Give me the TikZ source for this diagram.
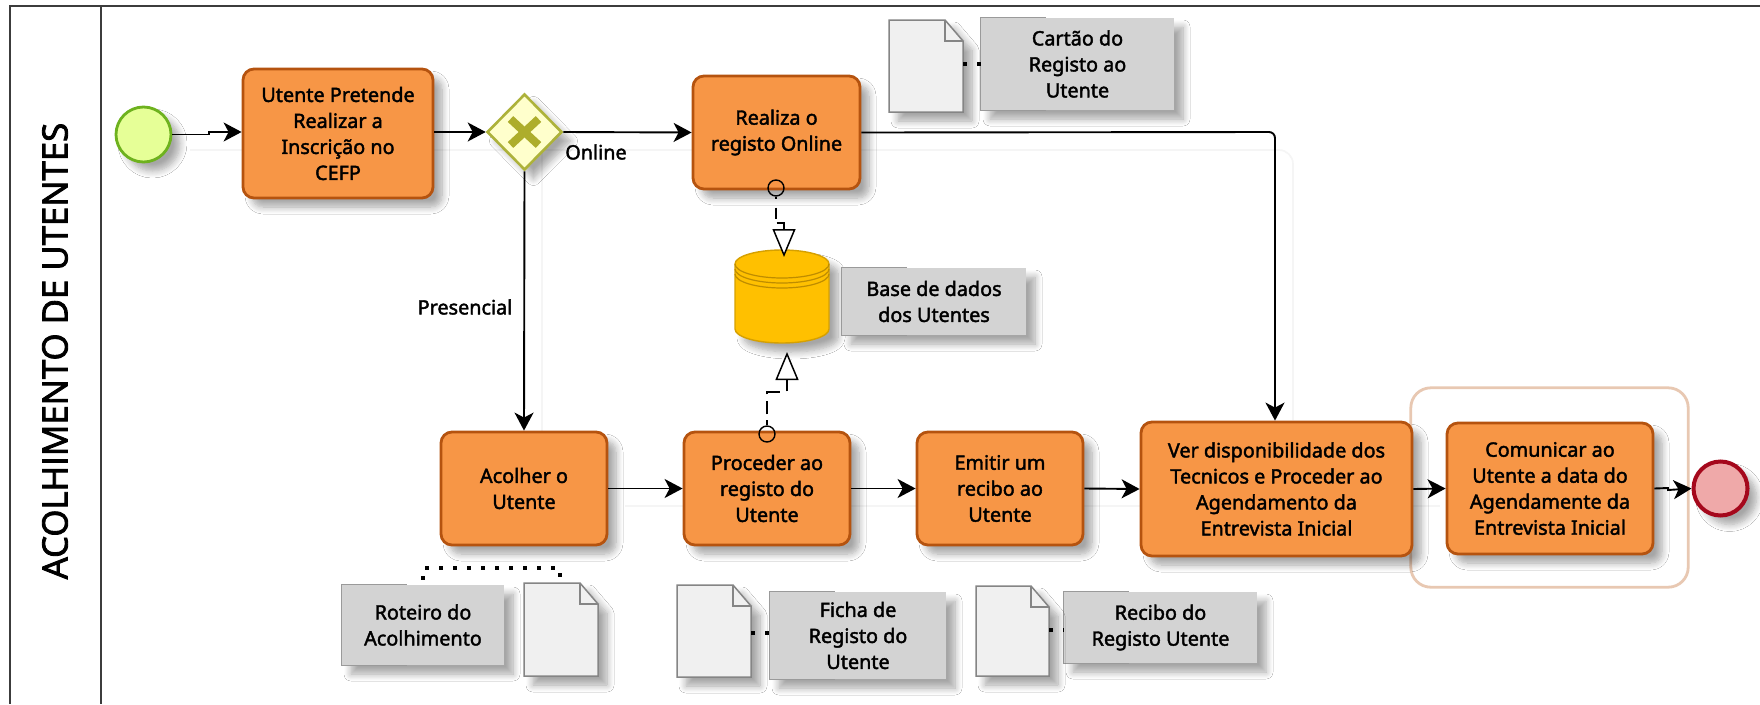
\documentclass[tikz,border=0pt]{standalone}
\usepackage{fontspec}
\setmainfont{Noto Sans}
\newfontfamily\lblfont[FakeBold=2]{Noto Sans}
\newfontfamily\ttlfont[FakeBold=2.5]{Open Sans}
\usetikzlibrary{arrows.meta,shapes.geometric,shadows,shadows.blur,calc,positioning}
\definecolor{taskfill}{HTML}{F79646}
\definecolor{taskdraw}{HTML}{B5530F}
\definecolor{annfill}{HTML}{D3D3D3}
\definecolor{annline}{HTML}{9A9A9A}
\definecolor{docfill}{HTML}{F0F0F0}
\definecolor{docdraw}{HTML}{858585}
\definecolor{framecol}{HTML}{3C3C3C}
\tikzset{
  softshadow/.style={blur shadow={shadow xshift=#1,shadow yshift=-#1,shadow blur radius=7pt,shadow blur steps=8,shadow opacity=35}},
  softshadow/.default=9pt,
  txt/.style={font=\lblfont\fontsize{19.8}{26}\selectfont,align=center,text=black},
  task/.style={txt,rectangle,rounded corners=11pt,draw=taskdraw,fill=taskfill,line width=2.8pt,inner sep=0pt,softshadow},
  ann/.style={txt,rectangle,fill=annfill,inner sep=0pt,softshadow},
  flow/.style={draw=black,line width=1.9pt,-{Stealth[length=18pt,width=19pt,inset=5pt]}},
  faint/.style={draw=black!4,line width=1.6pt},
  assoc/.style={draw=black,line width=1.5pt,-{Triangle[open,fill=white,length=28pt,width=23pt,line width=1.5pt]}},
  dotline/.style={draw=black,line width=3.4pt,dash pattern=on 3.4pt off 10.6pt},
  smallc/.style={circle,draw=black,line width=1.4pt,minimum size=16pt,inner sep=0pt},
  anchorbox/.style={inner sep=0pt,rectangle},
  lbl/.style={txt,inner sep=0pt}
}
\newcommand{\annbracket}[1]{%
  \draw[annline,line width=1.3pt] ($(#1.north west)+(65,0)$) -- (#1.north west) -- (#1.south west) -- ($(#1.south west)+(65,0)$);}
\newcommand{\docbox}[5]{% name x1 y1 x2 y2
  \node[anchorbox,minimum width=#4pt-#2pt,minimum height=#5pt-#3pt,anchor=north west] (#1) at (#2,#3) {};
  \draw[fill=docfill,draw=docdraw,line width=1.5pt,softshadow] (#2,#3) -- ({#4-18},#3) -- (#4,{#3+21}) -- (#4,#5) -- (#2,#5) -- cycle;
  \draw[draw=docdraw,line width=1.5pt] ({#4-18},#3) -- ({#4-18},{#3+21}) -- (#4,{#3+21});}
\begin{document}
\begin{tikzpicture}[x=1pt,y=-1pt]
\useasboundingbox (0,0) rectangle (1760,704);
\fill[white] (0,0) rectangle (1760,704);
% pool
\draw[framecol,line width=2pt] (1760,6) -- (10,6) -- (10,704);
\draw[framecol,line width=2pt] (101,6) -- (101,704);
\node[rotate=90,font=\ttlfont\fontsize{34.8}{40}\selectfont,text=black,inner sep=0pt] (title) at (55,351) {ACOLHIMENTO DE UTENTES};
% group
\node[rectangle,rounded corners=20pt,minimum width=277pt,minimum height=199pt,inner sep=0pt] (grp) at (1549.5,487.5) {};
\draw[draw={rgb,255:red,232;green,200;blue,178},line width=2.8pt,rounded corners=20pt] (grp.north west) rectangle (grp.south east);
% faint connector shadows
\draw[faint,rounded corners=14pt] (190,150) -- (1293,150) -- (1293,420);
\draw[faint] (542,150) -- (542,432);
\draw[faint] (625,506) -- (1440,506);
% events
\node[circle,draw={rgb,255:red,110;green,178;blue,30},fill={rgb,255:red,230;green,255;blue,151},line width=2.8pt,minimum size=55pt,inner sep=0pt,softshadow] (start) at (143.5,134.5) {};
\node[circle,draw={rgb,255:red,165;green,8;blue,28},fill={rgb,255:red,239;green,169;blue,169},line width=4pt,minimum size=54pt,inner sep=0pt,softshadow] (endev) at (1720.5,488.5) {};
% tasks
\node[task,minimum width=190pt,minimum height=129pt] (t1) at (338,133.5) {Utente Pretende\\Realizar a\\Inscrição no\\CEFP};
\node[task,minimum width=167pt,minimum height=113pt] (realiza) at (776.5,132.5) {Realiza o\\registo Online};
\node[task,minimum width=166pt,minimum height=113pt] (acolher) at (524,488.5) {Acolher o\\Utente};
\node[task,minimum width=166pt,minimum height=113pt] (proceder) at (767,488.5) {Proceder ao\\registo do\\Utente};
\node[task,minimum width=166pt,minimum height=113pt] (emitir) at (1000,488.5) {Emitir um\\recibo ao\\Utente};
\node[task,minimum width=271pt,minimum height=134pt] (ver) at (1276.5,489) {Ver disponibilidade dos\\Tecnicos e Proceder ao\\Agendamento da\\Entrevista Inicial};
\node[task,minimum width=206pt,minimum height=131pt] (com) at (1550,488.5) {Comunicar ao\\Utente a data do\\Agendamente da\\Entrevista Inicial};
% gateway
\node[diamond,draw={rgb,255:red,173;green,178;blue,58},fill={rgb,255:red,255;green,255;blue,204},line width=2.6pt,minimum width=75pt,minimum height=76pt,inner sep=0pt,softshadow] (gw) at (524.5,132) {};
\draw[draw={rgb,255:red,173;green,173;blue,44},line width=8pt] ($(gw.center)+(-14,-13)$) -- ($(gw.center)+(14,13)$);
\draw[draw={rgb,255:red,173;green,173;blue,44},line width=8pt] ($(gw.center)+(-14,13)$) -- ($(gw.center)+(14,-13)$);
% database
\node[anchorbox,minimum width=94pt,minimum height=93pt] (db) at (782,296.5) {};
\draw[fill={rgb,255:red,255;green,192;blue,0},draw={rgb,255:red,214;green,160;blue,0},line width=1.4pt,softshadow] (735,264) arc[x radius=47,y radius=14,start angle=180,end angle=360] -- (829,329) arc[x radius=47,y radius=14,start angle=0,end angle=180] -- cycle;
\draw[draw={rgb,255:red,190;green,140;blue,0},line width=1.2pt] (735,264) arc[x radius=47,y radius=14,start angle=180,end angle=0];
\draw[draw={rgb,255:red,190;green,140;blue,0},line width=1.2pt] (735,269) arc[x radius=47,y radius=14,start angle=180,end angle=0];
\draw[draw={rgb,255:red,190;green,140;blue,0},line width=1.2pt] (735,274) arc[x radius=47,y radius=14,start angle=180,end angle=0];
% annotations
\node[ann,minimum width=193pt,minimum height=92pt] (acartao) at (1077.5,64) {Cartão do\\Registo ao\\Utente};
\annbracket{acartao}
\node[ann,minimum width=184pt,minimum height=67pt] (abase) at (934,301.5) {Base de dados\\dos Utentes};
\annbracket{abase}
\node[ann,minimum width=162pt,minimum height=80pt] (arot) at (423,625) {Roteiro do\\Acolhimento};
\annbracket{arot}
\node[ann,minimum width=176pt,minimum height=87pt] (aficha) at (858,635.5) {Ficha de\\Registo do\\Utente};
\annbracket{aficha}
\node[ann,minimum width=193pt,minimum height=71pt] (arecibo) at (1160.5,627.5) {Recibo do\\Registo Utente};
\annbracket{arecibo}
% documents
\docbox{dcartao}{889}{20}{963}{112}
\docbox{drot}{524}{583}{598}{676}
\docbox{dficha}{677}{585}{751}{677}
\docbox{drecibo}{976}{586}{1049}{676}
% flows
\coordinate (j1) at (209,134.5);
\coordinate (j2) at (209,132);
\draw[flow] (start.east) -- (j1) -- (j2) -- ($(t1.west)+(0,-1.5)$);
\draw[flow] ($(t1.east)+(0,-1.5)$) -- (gw.west);
\draw[flow] (gw.east) -- (realiza.west);
\draw[flow] (gw.south) -- (acolher.north);
\coordinate (c1) at (1275,132);
\draw[flow,rounded corners=6pt] (realiza.east) -- (c1) -- (ver.north -| c1);
\draw[flow] (acolher.east) -- (proceder.west);
\draw[flow] (proceder.east) -- (emitir.west);
\draw[flow] (emitir.east) -- (ver.west);
\draw[flow] (ver.east) -- (com.west);
\coordinate (j3) at (1668,488);
\coordinate (j4) at (1668,490);
\draw[flow] (com.east) -- (j3) -- (j4) -- (endev.west);
% data associations
\node[smallc] (c2) at (776,188) {};
\node[smallc] (c3) at (767,434) {};
\coordinate (a1) at (776,223);
\coordinate (a2) at (784,223);
\coordinate (dbt) at (784,257);
\draw[assoc,dash pattern=on 2pt off 9pt on 11pt off 5pt on 30pt off 1pt] (c2.south) -- (a1) -- (a2) -- (dbt);
\coordinate (a3) at (767,392);
\coordinate (a4) at (787,392);
\coordinate (dbb) at (787,352);
\draw[assoc,dash pattern=on 5pt off 6pt on 13pt off 7pt on 15pt off 8pt on 30pt off 1pt] (c3.north) -- (a3) -- (a4) -- (dbb);
% text associations
\draw[dotline] (dcartao.east |- acartao.west) -- (acartao.west);
\draw[dotline] (dficha.east |- 0,633) -- (aficha.west |- 0,633);
\draw[dotline] (drecibo.east |- 0,630) -- (arecibo.west |- 0,630);
\coordinate (r1) at (423,568);
\coordinate (r2) at (560,568);
\draw[dotline] ($(arot.north)+(0,-5)$) -- (r1) -- (r2) -- (r2 |- drot.north);
% labels
\node[lbl] (online) at (596,152) {Online};
\node[lbl] (pres) at (465,307) {Presencial};
\end{tikzpicture}
\end{document}
